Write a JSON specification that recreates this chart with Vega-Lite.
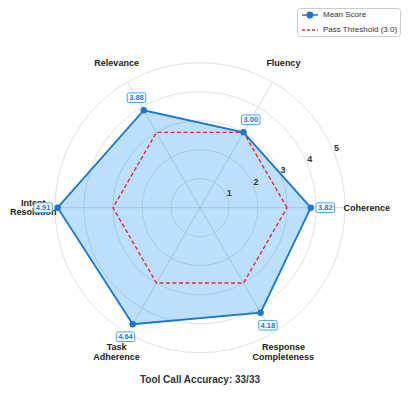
{
  "$schema": "https://vega.github.io/schema/vega-lite/v6.json",
  "width": 408,
  "height": 394,
  "autosize": {"type": "none"},
  "padding": 0,
  "background": "white",
  "config": {"view": {"stroke": null}},
  "title": {"text": "Tool Call Accuracy: 33/33", "orient": "bottom", "anchor": "middle", "dx": -4, "offset": -19.5, "baseline": "top", "font": "Liberation Sans", "fontSize": 10, "fontWeight": "bold", "color": "#333333"},
  "datasets": {
    "metrics": [
      {"metric": "Coherence", "score": 3.82, "idx": 0, "threshold": 3},
      {"metric": "Fluency", "score": 3.00, "idx": 1, "threshold": 3},
      {"metric": "Relevance", "score": 3.88, "idx": 2, "threshold": 3},
      {"metric": "Intent\nResolution", "score": 4.91, "idx": 3, "threshold": 3},
      {"metric": "Task\nAdherence", "score": 4.64, "idx": 4, "threshold": 3},
      {"metric": "Response\nCompleteness", "score": 4.18, "idx": 5, "threshold": 3}
    ],
    "rings": [{"ring": 1}, {"ring": 2}, {"ring": 3}, {"ring": 4}, {"ring": 5}]
  },
  "layer": [
    {
      "data": {"name": "rings"},
      "mark": {"type": "point", "filled": false, "stroke": "#dcdcdc", "strokeWidth": 0.9, "opacity": 1},
      "encoding": {
        "x": {"datum": 0, "type": "quantitative", "scale": {"domain": [-6.8966, 7.1724], "nice": false, "zero": false}, "axis": null},
        "y": {"datum": 0, "type": "quantitative", "scale": {"domain": [-6.4241, 7.162], "nice": false, "zero": false}, "axis": null},
        "size": {"field": "ring", "type": "quantitative", "scale": {"type": "pow", "exponent": 2, "domain": [0, 5], "range": [0, 84100]}, "legend": null}
      }
    },
    {
      "data": {"name": "metrics"},
      "transform": [
        {"calculate": "datum.idx * PI / 3", "as": "a"},
        {"calculate": "5 * cos(datum.a)", "as": "sx"},
        {"calculate": "5 * sin(datum.a)", "as": "sy"}
      ],
      "mark": {"type": "rule", "stroke": "#d4d4d4", "strokeWidth": 0.9},
      "encoding": {
        "x": {"field": "sx", "type": "quantitative", "scale": {"domain": [-6.8966, 7.1724], "nice": false, "zero": false}, "axis": null},
        "y": {"field": "sy", "type": "quantitative", "scale": {"domain": [-6.4241, 7.162], "nice": false, "zero": false}, "axis": null},
        "x2": {"datum": 0},
        "y2": {"datum": 0}
      }
    },
    {
      "data": {"name": "metrics"},
      "transform": [
        {"calculate": "datum.idx * PI / 3", "as": "a"},
        {"calculate": "datum.score * cos(datum.a)", "as": "px"},
        {"calculate": "datum.score * sin(datum.a)", "as": "py"}
      ],
      "mark": {"type": "line", "interpolate": "linear-closed", "fill": "#2196F3", "fillOpacity": 0.3, "strokeWidth": 1.8},
      "encoding": {
        "x": {"field": "px", "type": "quantitative", "scale": {"domain": [-6.8966, 7.1724], "nice": false, "zero": false}, "axis": null},
        "y": {"field": "py", "type": "quantitative", "scale": {"domain": [-6.4241, 7.162], "nice": false, "zero": false}, "axis": null},
        "order": {"field": "idx", "type": "quantitative"},
        "color": {
          "datum": "Mean Score", "type": "nominal",
          "scale": {"domain": ["Mean Score", "Pass Threshold (3.0)"], "range": ["#1976D2", "#E8283C"]},
          "legend": {
            "title": null, "orient": "none", "legendX": 297, "legendY": 8,
            "padding": 2, "rowPadding": 4, "labelOffset": 14,
            "labelFont": "Liberation Sans", "labelFontSize": 8, "labelColor": "#333333",
            "fillColor": "#ffffff", "strokeColor": "#cccccc", "cornerRadius": 3,
            "symbolSize": 64, "symbolStrokeWidth": 1.5,
            "encoding": {
              "symbols": {
                "shape": {"value": {"expr": "datum.value === 'Mean Score' ? 'M-0.5,0L3.5,0M0.8,0A0.7,0.7 0 1,0 2.2,0A0.7,0.7 0 1,0 0.8,0Z' : 'M-0.5,0L3.5,0'"}},
                "fill": {"value": {"expr": "datum.value === 'Mean Score' ? '#1976D2' : 'transparent'"}},
                "strokeDash": {"value": {"expr": "datum.value === 'Mean Score' ? [1, 0] : [3, 2]"}}
              }
            }
          }
        }
      }
    },
    {
      "data": {"name": "metrics"},
      "transform": [
        {"calculate": "datum.idx * PI / 3", "as": "a"},
        {"calculate": "datum.threshold * cos(datum.a)", "as": "tx"},
        {"calculate": "datum.threshold * sin(datum.a)", "as": "ty"}
      ],
      "mark": {"type": "line", "interpolate": "linear-closed", "strokeWidth": 1.4, "strokeDash": [4, 2.5]},
      "encoding": {
        "x": {"field": "tx", "type": "quantitative", "scale": {"domain": [-6.8966, 7.1724], "nice": false, "zero": false}, "axis": null},
        "y": {"field": "ty", "type": "quantitative", "scale": {"domain": [-6.4241, 7.162], "nice": false, "zero": false}, "axis": null},
        "order": {"field": "idx", "type": "quantitative"},
        "color": {"datum": "Pass Threshold (3.0)", "type": "nominal"}
      }
    },
    {
      "data": {"name": "rings"},
      "transform": [
        {"calculate": "datum.ring * cos(PI / 8)", "as": "rx"},
        {"calculate": "datum.ring * sin(PI / 8)", "as": "ry"}
      ],
      "mark": {"type": "text", "font": "Liberation Sans", "fontSize": 9, "fontWeight": "bold", "color": "#333333", "align": "center", "baseline": "middle", "dx": 2.5, "dy": -4},
      "encoding": {
        "x": {"field": "rx", "type": "quantitative", "scale": {"domain": [-6.8966, 7.1724], "nice": false, "zero": false}, "axis": null},
        "y": {"field": "ry", "type": "quantitative", "scale": {"domain": [-6.4241, 7.162], "nice": false, "zero": false}, "axis": null},
        "text": {"field": "ring", "type": "nominal"}
      }
    },
    {
      "data": {"name": "metrics"},
      "transform": [
        {"calculate": "datum.idx * PI / 3", "as": "a"},
        {"calculate": "datum.score * cos(datum.a)", "as": "px"},
        {"calculate": "datum.score * sin(datum.a)", "as": "py"}
      ],
      "mark": {"type": "point", "filled": true, "color": "#1976D2", "size": 42, "opacity": 1},
      "encoding": {
        "x": {"field": "px", "type": "quantitative", "scale": {"domain": [-6.8966, 7.1724], "nice": false, "zero": false}, "axis": null},
        "y": {"field": "py", "type": "quantitative", "scale": {"domain": [-6.4241, 7.162], "nice": false, "zero": false}, "axis": null}
      }
    },
    {
      "data": {"name": "metrics"},
      "transform": [
        {"filter": "datum.idx < 3"},
        {"calculate": "datum.idx * PI / 3", "as": "a"},
        {"calculate": "5.75 * cos(datum.a)", "as": "mx"},
        {"calculate": "5.75 * sin(datum.a)", "as": "my"}
      ],
      "mark": {"type": "text", "font": "Liberation Sans", "fontSize": 9, "fontWeight": "bold", "color": "#222222", "align": "center", "baseline": "middle"},
      "encoding": {
        "x": {"field": "mx", "type": "quantitative", "scale": {"domain": [-6.8966, 7.1724], "nice": false, "zero": false}, "axis": null},
        "y": {"field": "my", "type": "quantitative", "scale": {"domain": [-6.4241, 7.162], "nice": false, "zero": false}, "axis": null},
        "text": {"field": "metric", "type": "nominal"}
      }
    },
    {
      "data": {"name": "metrics"},
      "transform": [
        {"filter": "datum.idx >= 3"},
        {"calculate": "datum.idx * PI / 3", "as": "a"},
        {"calculate": "5.75 * cos(datum.a)", "as": "mx"},
        {"calculate": "5.75 * sin(datum.a)", "as": "my"}
      ],
      "mark": {"type": "text", "font": "Liberation Sans", "fontSize": 9, "fontWeight": "bold", "color": "#222222", "align": "center", "baseline": "middle", "lineBreak": "\n", "lineHeight": 9.6, "dy": -4.8},
      "encoding": {
        "x": {"field": "mx", "type": "quantitative", "scale": {"domain": [-6.8966, 7.1724], "nice": false, "zero": false}, "axis": null},
        "y": {"field": "my", "type": "quantitative", "scale": {"domain": [-6.4241, 7.162], "nice": false, "zero": false}, "axis": null},
        "text": {"field": "metric", "type": "nominal"}
      }
    },
    {
      "data": {"name": "metrics"},
      "transform": [
        {"calculate": "datum.idx * PI / 3", "as": "a"},
        {"calculate": "(datum.score + 0.5) * cos(datum.a)", "as": "lx"},
        {"calculate": "(datum.score + 0.5) * sin(datum.a)", "as": "ly"}
      ],
      "mark": {"type": "point", "filled": true, "fill": "#ffffff", "stroke": "#42A5F5", "strokeWidth": 1, "opacity": 1, "size": 342,
        "shape": "M-0.84,-0.52L0.84,-0.52Q1,-0.52 1,-0.36L1,0.36Q1,0.52 0.84,0.52L-0.84,0.52Q-1,0.52 -1,0.36L-1,-0.36Q-1,-0.52 -0.84,-0.52Z"},
      "encoding": {
        "x": {"field": "lx", "type": "quantitative", "scale": {"domain": [-6.8966, 7.1724], "nice": false, "zero": false}, "axis": null},
        "y": {"field": "ly", "type": "quantitative", "scale": {"domain": [-6.4241, 7.162], "nice": false, "zero": false}, "axis": null}
      }
    },
    {
      "data": {"name": "metrics"},
      "transform": [
        {"calculate": "datum.idx * PI / 3", "as": "a"},
        {"calculate": "(datum.score + 0.5) * cos(datum.a)", "as": "lx"},
        {"calculate": "(datum.score + 0.5) * sin(datum.a)", "as": "ly"}
      ],
      "mark": {"type": "text", "font": "Liberation Sans", "fontSize": 7.5, "fontWeight": "bold", "color": "#1976D2", "align": "center", "baseline": "middle", "dy": 0.5},
      "encoding": {
        "x": {"field": "lx", "type": "quantitative", "scale": {"domain": [-6.8966, 7.1724], "nice": false, "zero": false}, "axis": null},
        "y": {"field": "ly", "type": "quantitative", "scale": {"domain": [-6.4241, 7.162], "nice": false, "zero": false}, "axis": null},
        "text": {"field": "score", "type": "quantitative", "format": ".2f"}
      }
    }
  ]
}
